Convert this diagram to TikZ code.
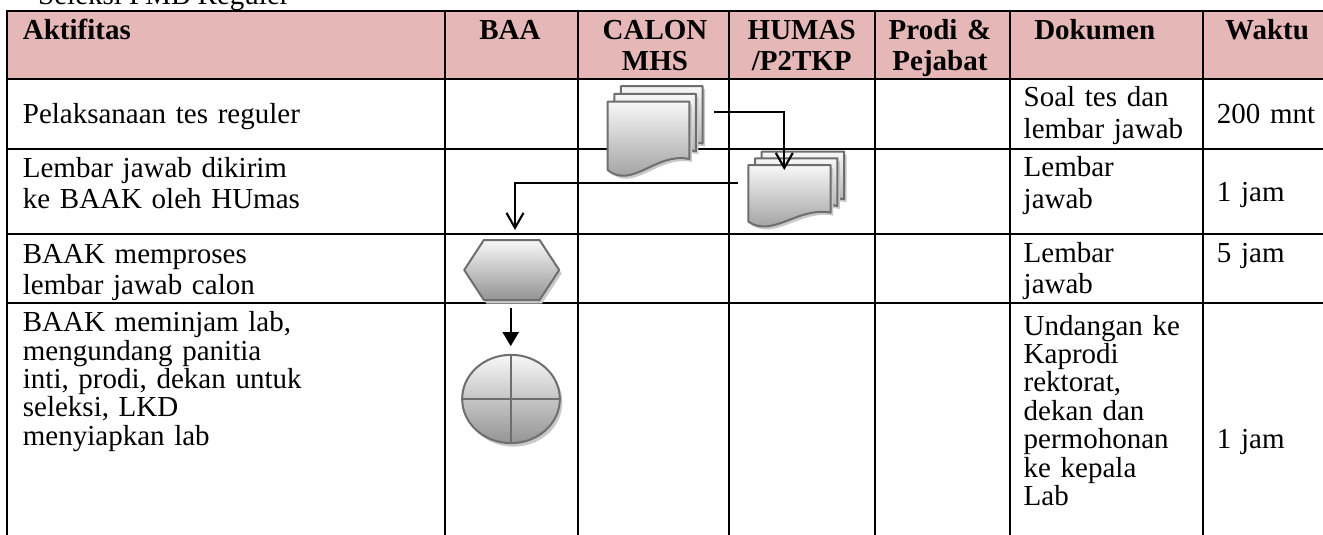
\documentclass[tikz,border=0pt]{standalone}
\usepackage{fontspec}
\setmainfont{Liberation Serif}
\usetikzlibrary{arrows.meta,calc,shapes.geometric}
\definecolor{hdrpink}{HTML}{E5B8B7}
\definecolor{shapeline}{HTML}{6E6E6E}
\definecolor{shadowgray}{HTML}{C9C9C9}
\tikzset{
  gridline/.style={line width=2.8pt, black},
  shapestyle/.style={draw=shapeline, line width=2pt, top color=black!3, bottom color=black!42, line join=round},
  body/.style={inner sep=0pt, anchor=base west, align=left, text width=420pt, font=\fontsize{29}{31}\selectfont},
  hdr/.style={inner sep=0pt, anchor=base, align=center, text width=150pt, font=\fontsize{29}{31.5}\selectfont\bfseries},
  anchorbox/.style={rectangle, draw=none, inner sep=0pt, outer sep=0pt},
  conn/.style={line width=2.1pt, black},
  openarrow/.style={-{Straight Barb[length=15pt,width=17pt]}},
  solidarrow/.style={-{Triangle[length=14pt,width=16pt]}},
  pics/docsheet/.style n args={2}{code={
    \fill[shadowgray] (2.5,3) -- ({#1+2.5},3) -- ({#1+2.5},{0.84*#2+3}) .. controls ({0.6*#1+2.5},{0.73*#2+3}) and ({0.3*#1+2.5},{1.29*#2+3}) .. (2.5,{#2+3}) -- cycle;
    \path[shapestyle] (0,0) -- (#1,0) -- (#1,{0.84*#2}) .. controls ({0.6*#1},{0.73*#2}) and ({0.3*#1},{1.29*#2}) .. (0,#2) -- cycle;
  }},
}
\begin{document}
\begin{tikzpicture}[x=1pt, y=-1pt]
\useasboundingbox (0,0) rectangle (1323,535);
\clip (0,0) rectangle (1323,535);
\fill[white] (0,0) rectangle (1323,535);

% title
\node[inner sep=0pt, anchor=base west, font=\fontsize{29}{31}\selectfont] (title) at (38,5) {Seleksi PMB Reguler};

% header background
\fill[hdrpink] (7,11) rectangle (1345,79);

% grid
\draw[gridline] (7,545) -- (7,11) -- (1345,11);
\foreach \yy in {79,149,234,303} \draw[gridline] (7,\yy) -- (1345,\yy);
\foreach \xx in {445,578,729,875,1010,1203} \draw[gridline] (\xx,11) -- (\xx,545);

% header texts
\node[hdr, anchor=base west, align=left] (hAkt) at (22.7,40) {Aktifitas};
\node[hdr] (hBAA) at (510,40) {BAA};
\node[hdr] (hCal) at (655,39.5) {CALON\\MHS};
\node[hdr] (hHum) at (801.7,39.5) {HUMAS\\/P2TKP};
\node[hdr] (hPro) at (940,39.5) {Prodi \&\\Pejabat};
\node[hdr] (hDok) at (1094.7,39.5) {Dokumen};
\node[hdr] (hWak) at (1267,39.5) {Waktu};

% Aktifitas column
\node[body] (a1) at (22.7,123.3) {Pelaksanaan tes reguler};
\node[body] (a2) at (22.7,177.3) {Lembar jawab dikirim\\ke BAAK oleh HUmas};
\node[body, font=\fontsize{29}{30.7}\selectfont] (a3) at (22.7,263.3) {BAAK memproses\\lembar jawab calon};
\node[body, font=\fontsize{29}{28.4}\selectfont] (a4) at (22.7,331.7) {BAAK meminjam lab,\\mengundang panitia\\inti, prodi, dekan untuk\\seleksi, LKD\\menyiapkan lab};

% Dokumen column
\node[body, font=\fontsize{29}{31.6}\selectfont] (d1) at (1023.5,106.7) {Soal tes dan\\lembar jawab};
\node[body, font=\fontsize{29}{31.6}\selectfont] (d2) at (1023.5,176.7) {Lembar\\jawab};
\node[body, font=\fontsize{29}{30.7}\selectfont] (d3) at (1023.5,262.7) {Lembar\\jawab};
\node[body, font=\fontsize{29}{28.4}\selectfont] (d4) at (1023.5,335) {Undangan ke\\Kaprodi\\rektorat,\\dekan dan\\permohonan\\ke kepala\\Lab};

% Waktu column
\node[body] (w1) at (1216.7,123.3) {200 mnt};
\node[body] (w2) at (1216.7,201.7) {1 jam};
\node[body] (w3) at (1216.7,262.7) {5 jam};
\node[body] (w4) at (1216.7,448.3) {1 jam};

% multi-document 1 (CALON MHS)
\pic at (620.9,86.1) {docsheet={81.6}{68.3}};
\pic at (614.3,93.9) {docsheet={81.6}{68.3}};
\pic at (607.7,101.7) {docsheet={81.6}{68.3}};
\node[anchorbox, minimum width=81.6pt, minimum height=68.3pt] (doc1) at (648.5,135.85) {};

% multi-document 2 (HUMAS)
\pic at (761.7,151.6) {docsheet={82.4}{56.7}};
\pic at (755,158.3) {docsheet={82.4}{56.7}};
\pic at (748.3,165) {docsheet={82.4}{56.7}};
\node[anchorbox, minimum width=82.4pt, minimum height=56.7pt] (doc2) at (789.5,193.35) {};

% hexagon (BAA)
\node[anchorbox, minimum width=95pt, minimum height=60pt] (hex) at (511.7,270) {};
\fill[shadowgray] ($(hex.west)+(2.5,3.5)$) -- ($(hex.north west)+(22.15,3.5)$) -- ($(hex.north east)+(-17.15,3.5)$) -- ($(hex.east)+(2.5,3.5)$) -- ($(hex.south east)+(-17.15,3.5)$) -- ($(hex.south west)+(22.15,3.5)$) -- cycle;
\path[shapestyle] (hex.west) -- ($(hex.north west)+(19.65,0)$) -- ($(hex.north east)+(-19.65,0)$) -- (hex.east) -- ($(hex.south east)+(-19.65,0)$) -- ($(hex.south west)+(19.65,0)$) -- cycle;

% circle with cross (BAA)
\fill[shadowgray] (513.5,402.5) ellipse [x radius=48.85, y radius=44.15];
\node[ellipse, shapestyle, inner sep=0pt, minimum width=97.7pt, minimum height=88.3pt] (circ) at (511,399) {};
\draw[shapeline, line width=2pt] (circ.north) -- (circ.south) (circ.west) -- (circ.east);

% connectors
\draw[conn, openarrow] ($(doc1.north east)+(24.7,10)$) -| ($(doc2.north west)+(36,5)$);
\draw[conn, openarrow] ($(doc2.north west)+(-10,17.7)$) -| ($(hex.north)+(3.3,-10)$);
\draw[conn, solidarrow] ($(hex.south)+(-1,8.3)$) -- ($(circ.north)+(-0.3,-7.7)$);
\end{tikzpicture}
\end{document}
